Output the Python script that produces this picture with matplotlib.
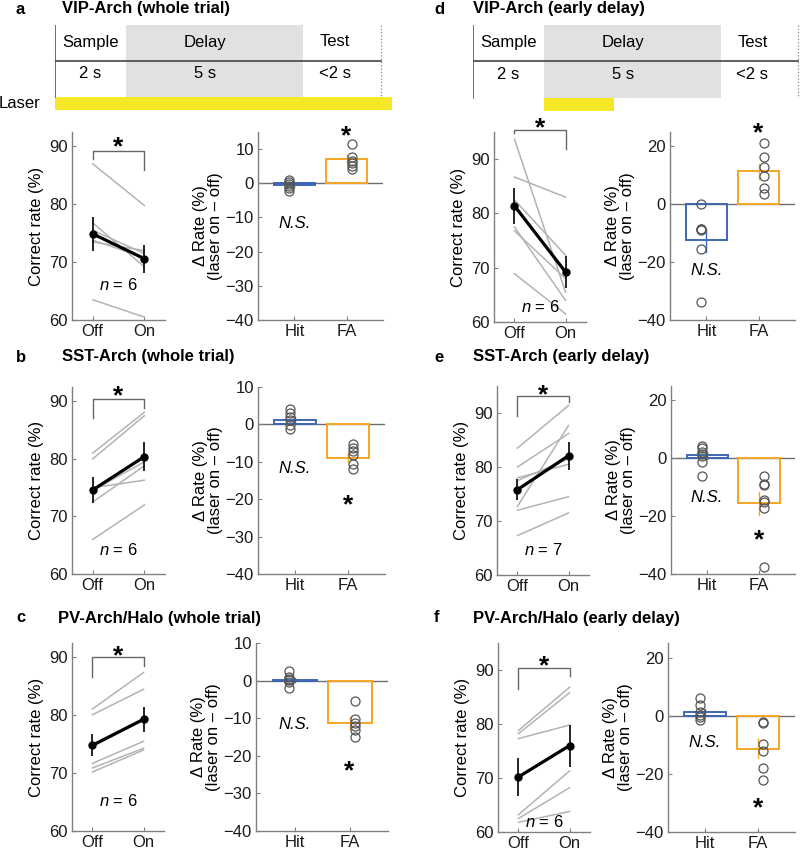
import matplotlib
matplotlib.use('Agg')
import matplotlib.pyplot as plt
import numpy as np

plt.rcParams['font.family'] = ['Liberation Sans', 'DejaVu Sans']
plt.rcParams['mathtext.fontset'] = 'custom'
plt.rcParams['mathtext.it'] = 'Liberation Sans:italic'
plt.rcParams['mathtext.rm'] = 'Liberation Sans'

W, H = 800, 851
fig = plt.figure(figsize=(8, 8.51), dpi=100)

def rect(x0, y0, x1, y1):
    return [x0 / W, 1 - y1 / H, (x1 - x0) / W, (y1 - y0) / H]

# ---------------- data ----------------
conds = ['Off', 'On']
outcomes = ['Hit', 'FA']
epochs = ['Sample', 'Delay', 'Test']
durations = ['2 s', '5 s', '<2 s']
epoch_bounds = [0, 2, 7, 9.2]

# a: VIP-Arch whole trial
a_off = [87.0, 63.5, 76.8, 75.5, 73.5, 73.8]
a_on = [79.8, 60.5, 69.2, 71.5, 72.0, 70.8]
a_mean = [74.9, 70.6]
a_sem = [2.9, 2.4]
a_hit = [1.0, 0.5, -0.2, -0.7, -1.5, -2.2]
a_fa = [11.6, 7.8, 6.6, 6.0, 5.0, 4.2]
a_bar = [-0.5, 7.0]
a_bar_sem = [0.5, 1.2]

# b: SST-Arch whole trial
b_off = [81.0, 80.0, 75.0, 74.5, 72.5, 66.0]
b_on = [88.1, 87.5, 76.3, 79.5, 78.8, 72.0]
b_mean = [74.6, 80.4]
b_sem = [2.2, 2.5]
b_hit = [4.0, 3.0, 2.0, 1.2, -0.2, -1.1]
b_fa = [-5.2, -6.3, -7.2, -8.2, -10.7, -11.8]
b_bar = [1.3, -8.9]
b_bar_sem = [0.8, 1.2]

# c: PV-Arch/Halo whole trial
c_off = [81.1, 80.1, 75.0, 71.7, 70.9, 70.2]
c_on = [87.4, 84.5, 79.5, 75.5, 74.3, 74.0]
c_mean = [74.8, 79.3]
c_sem = [1.9, 2.2]
c_hit = [2.5, 0.9, 0.4, 0.2, -0.4, -2.0]
c_fa = [-5.3, -10.2, -11.4, -12.0, -13.2, -14.9]
c_bar = [0.1, -11.3]
c_bar_sem = [0.6, 1.5]

# d: VIP-Arch early delay
d_off = [93.7, 86.7, 82.5, 77.5, 76.8, 68.9]
d_on = [65.5, 83.0, 72.3, 64.0, 68.0, 61.5]
d_mean = [81.4, 69.2]
d_sem = [3.3, 3.0]
d_hit = [0.0, -8.5, -8.7, -8.9, -15.4, -33.8]
d_fa = [21.2, 16.5, 12.9, 9.8, 5.8, 3.5]
d_bar = [-12.5, 11.4]
d_bar_sem = [4.0, 2.5]

# e: SST-Arch early delay
e_off = [83.5, 80.0, 78.0, 77.5, 72.7, 72.0, 67.3]
e_on = [91.4, 86.2, 80.5, 81.5, 87.7, 74.5, 71.5]
e_mean = [75.8, 82.1]
e_sem = [2.0, 2.6]
e_hit = [4.3, 3.5, 2.2, 1.5, 0.8, -1.2, -6.2]
e_fa = [-6.2, -8.8, -9.2, -14.3, -15.2, -17.2, -37.6]
e_bar = [1.0, -15.5]
e_bar_sem = [1.2, 4.0]

# f: PV-Arch/Halo early delay
f_off = [78.8, 78.2, 77.3, 63.2, 62.5, 61.8]
f_on = [86.8, 85.8, 79.8, 71.3, 68.2, 63.8]
f_mean = [70.2, 76.0]
f_sem = [3.5, 3.9]
f_hit = [6.0, 3.7, 1.2, 0.2, -0.6, -1.4]
f_fa = [-2.0, -2.6, -9.9, -12.2, -18.0, -22.0]
f_bar = [1.3, -11.3]
f_bar_sem = [1.1, 3.2]

# ---------------- styles ----------------
FS = 12
SPINE = '#808080'
GRAY_LINE = '#b3b3b3'
HIT_C = '#3d66b3'
FA_C = '#f5a623'
YELLOW = '#f6e727'
BOX_GRAY = '#e1e1e1'


def style_axes(ax):
    for s in ['top', 'right']:
        ax.spines[s].set_visible(False)
    for s in ['left', 'bottom']:
        ax.spines[s].set_color(SPINE)
        ax.spines[s].set_linewidth(1.0)
    ax.tick_params(direction='in', length=3, color=SPINE, labelsize=FS,
                   labelcolor='#1a1a1a', pad=3)


def star(ax, x, y, dy=-6):
    ax.annotate('*', (x, y), xytext=(0, dy), textcoords='offset points',
                ha='center', va='center', fontsize=19, fontweight='bold',
                annotation_clip=False)


def left_panel(r, off, on, mean, sem, ylim, bracket, star_y, n, n_y):
    ax = fig.add_axes(rect(*r))
    style_axes(ax)
    x = np.arange(1, len(conds) + 1)
    for o1, o2 in zip(off, on):
        ax.plot(x, [o1, o2], color=GRAY_LINE, lw=1.1, zorder=2, clip_on=False)
    ax.errorbar(x, mean, yerr=sem, color='black', lw=2.3, elinewidth=1.2,
                capsize=0, marker='o', ms=5, zorder=4)
    ax.set_xlim(0.6, 2.4)
    ax.set_ylim(*ylim)
    ax.set_yticks(np.arange(60, ylim[1], 10))
    ax.set_xticks(x)
    ax.set_xticklabels(conds)
    ax.set_ylabel('Correct rate (%)', fontsize=FS, labelpad=4)
    top, le, re = bracket
    ax.plot([1, 1, 2, 2], [le, top, top, re], color='#666666', lw=1.0,
            clip_on=False)
    star(ax, 1.5, star_y)
    ax.text(1.5, n_y, r'$\it{n}$ = %d' % n, ha='center', va='center',
            fontsize=FS)
    return ax


def right_panel(r, hit, fa, bars, bar_sem, ylim, yticks, ns_y, star_y):
    ax = fig.add_axes(rect(*r))
    style_axes(ax)
    x = np.arange(1, len(outcomes) + 1)
    cols = [HIT_C, FA_C]
    ax.axhline(0, color='#6e6e6e', lw=1.0, zorder=1)
    ax.bar(x, bars, width=0.8, facecolor='none', edgecolor=cols, lw=1.4,
           zorder=2)
    for xi, v, e, c in zip(x, bars, bar_sem, cols):
        ax.plot([xi, xi], [v - e, v + e], color=c, lw=1.0, zorder=2)
    for xc, pts in zip([0.9, 2.1], [hit, fa]):
        ax.plot([xc] * len(pts), pts, ls='none', marker='o', ms=6.5,
                mfc='none', mec='#555555', mew=0.9, zorder=3, clip_on=False)
    ax.set_xlim(0.3, 2.7)
    ax.set_ylim(*ylim)
    ax.set_yticks(yticks)
    ax.set_xticks(x)
    ax.set_xticklabels(outcomes)
    ax.set_ylabel('\u0394 Rate (%)\n(laser on \u2013 off)', fontsize=FS,
                  labelpad=2, linespacing=1.0)
    ax.text(1, ns_y, 'N.S.', style='italic', ha='center', va='center',
            fontsize=FS)
    star(ax, 2, star_y)
    return ax


def timeline(r, xmax, laser, show_label):
    ax = fig.add_axes(rect(*r))
    ax.set_xlim(0, xmax)
    ax.set_ylim(85, 0)
    ax.axis('off')
    ax.fill_betweenx([0, 72], epoch_bounds[1], epoch_bounds[2],
                     color=BOX_GRAY, lw=0)
    ax.plot([0, 0], [0, 72], color='#555555', lw=1.2)
    ax.plot([0, epoch_bounds[3]], [36, 36], color='#444444', lw=1.2)
    ax.plot([epoch_bounds[3]] * 2, [0, 72], color='#888888', lw=0.9, ls=':')
    name_x = [1.0, 4.25, 7.9]
    for xi, nm, du in zip(name_x, epochs, durations):
        ax.text(xi, 17, nm, ha='center', va='center', fontsize=FS)
        ax.text(xi, 49, du, ha='center', va='center', fontsize=FS)
    ax.fill_betweenx([72, 85], laser[0], laser[1], color=YELLOW, lw=0)
    if show_label:
        ax.text(-0.42, 78.5, 'Laser', ha='right', va='center', fontsize=FS,
                clip_on=False)


def heading(x_letter, x_title, y, letter, title):
    fig.text(x_letter / W, 1 - y / H, letter, fontsize=12, fontweight='bold',
             va='center', ha='left')
    fig.text(x_title / W, 1 - y / H, title, fontsize=12, fontweight='bold',
             va='center', ha='left')


# ---------------- layout ----------------
heading(16, 62, 9, 'a', 'VIP-Arch (whole trial)')
heading(434, 473, 9, 'd', 'VIP-Arch (early delay)')
heading(16, 62, 357, 'b', 'SST-Arch (whole trial)')
heading(434, 473, 357, 'e', 'SST-Arch (early delay)')
heading(16, 58, 618, 'c', 'PV-Arch/Halo (whole trial)')
heading(434, 473, 618, 'f', 'PV-Arch/Halo (early delay)')

timeline((55, 25, 400, 110), 345 / 35.4, (0, 9.52), True)
timeline((472.7, 25, 800, 111), 327.3 / 35.4, (2, 4), False)

left_panel((72, 132, 165, 320), a_off, a_on, a_mean, a_sem, (60, 92.5),
           (89.2, 87.9, 85.9), 91.3, 6, 66.1)
right_panel((258, 132, 383, 320), a_hit, a_fa, a_bar, a_bar_sem, (-40, 15),
            np.arange(-40, 11, 10), -11.7, 16.3)

left_panel((494, 132, 586, 322), d_off, d_on, d_mean, d_sem, (60, 95),
           (95.4, 94.8, 91.8), 97.3, 6, 62.7)
right_panel((670, 132, 795, 320), d_hit, d_fa, d_bar, d_bar_sem, (-40, 25),
            np.arange(-40, 21, 20), -23, 27.5)

left_panel((72, 387, 165, 574), b_off, b_on, b_mean, b_sem, (60, 92.5),
           (90.4, 87.1, 88.8), 92.4, 6, 64.2)
right_panel((258, 387, 385, 574), b_hit, b_fa, b_bar, b_bar_sem, (-40, 10),
            np.arange(-40, 11, 10), -11.8, -19.5)

left_panel((497, 386, 589, 575), e_off, e_on, e_mean, e_sem, (60, 95),
           (93.1, 89.5, 92.0), 94.8, 7, 64.6)
right_panel((671, 386, 795, 574), e_hit, e_fa, e_bar, e_bar_sem, (-40, 25),
            np.arange(-40, 21, 20), -13.7, -25.3)

left_panel((72, 643, 164, 831), c_off, c_on, c_mean, c_sem, (60, 92.5),
           (90.0, 86.6, 88.5), 91.6, 6, 65.2)
right_panel((256, 643, 388, 831), c_hit, c_fa, c_bar, c_bar_sem, (-40, 10),
            np.arange(-40, 11, 10), -11.6, -21.8)

left_panel((498, 643, 590, 832), f_off, f_on, f_mean, f_sem, (60, 95),
           (90.3, 86.4, 88.8), 92.2, 6, 61.8)
right_panel((668, 643, 795, 832), f_hit, f_fa, f_bar, f_bar_sem, (-40, 25),
            np.arange(-40, 21, 20), -9.3, -29)

fig.savefig('out.png', dpi=100)
